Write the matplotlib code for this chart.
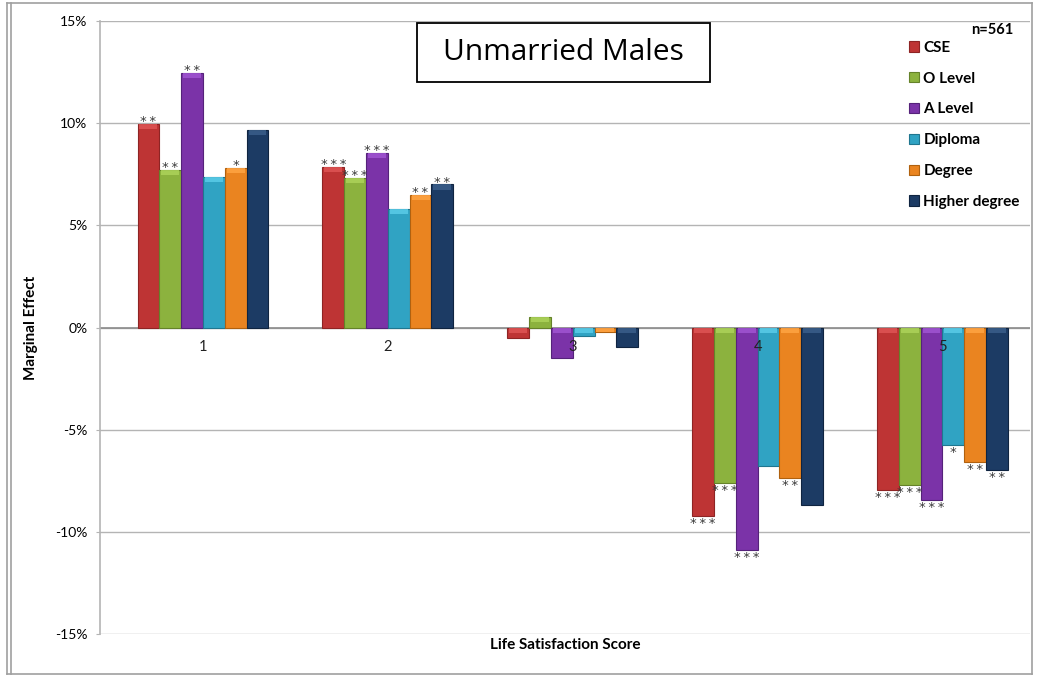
import numpy as np
import matplotlib.pyplot as plt
from matplotlib.patches import Rectangle
from matplotlib.lines import Line2D
import matplotlib
matplotlib.rcParams['font.family'] = ['Lato', 'DejaVu Sans']

# Marginal effects (%) by life satisfaction score
scores = ["1", "2", "3", "4", "5"]
qualifications = ["CSE", "O Level", "A Level", "Diploma", "Degree", "Higher degree"]
cse = [9.95, 7.85, -0.5, -9.2, -7.95]
o_level = [7.7, 7.3, 0.5, -7.6, -7.7]
a_level = [12.45, 8.55, -1.5, -10.9, -8.45]
diploma = [7.35, 5.8, -0.4, -6.8, -5.75]
degree = [7.8, 6.5, -0.2, -7.35, -6.6]
higher = [9.65, 7.0, -0.95, -8.7, -6.95]

# significance stars, same layout as the values
stars_cse = ["**", "***", "", "***", "***"]
stars_o = ["**", "***", "", "***", "***"]
stars_a = ["**", "***", "", "***", "***"]
stars_dip = ["", "", "", "", "*"]
stars_deg = ["*", "**", "", "**", "**"]
stars_hi = ["", "**", "", "", "**"]

series = [cse, o_level, a_level, diploma, degree, higher]
stars = [stars_cse, stars_o, stars_a, stars_dip, stars_deg, stars_hi]
colors = ["#BE3434", "#8CB23E", "#7B33A8", "#30A3C3", "#EA8420", "#1C3B64"]
caps = ["#DE5454", "#ACD35A", "#A055D2", "#5ACCE8", "#FFA443", "#3A5E8A"]
edges = ["#8E2424", "#65822A", "#55227A", "#20768F", "#B0610F", "#0F2440"]

fig = plt.figure(figsize=(10.46, 6.75), dpi=100)
ax = fig.add_axes([0.0956, 0.0607, 0.889, 0.9082])

x = np.arange(1, len(scores) + 1)
w = 0.118
for i, vals in enumerate(series):
    pos = x + (i - 2.5) * w
    ax.bar(pos, vals, width=w, color=colors[i], edgecolor=edges[i],
           linewidth=0.8, zorder=3, label=qualifications[i])
    # lighter bevel along the top edge of each bar
    vals = np.array(vals)
    top = np.maximum(vals, 0)
    cap = np.minimum(np.abs(vals), 0.25)
    ax.bar(pos, -cap, bottom=top, width=w * 0.82, color=caps[i],
           linewidth=0, zorder=4, alpha=0.85)
    for p, v, s in zip(pos, vals, stars[i]):
        if not s:
            continue
        txt = "\u2009".join(s)
        if v > 0:
            ax.text(p, v - 0.2, txt, ha="center", va="bottom",
                    fontsize=9.5, color="#3a3a3a", zorder=5,
                    family="DejaVu Sans")
        else:
            ax.text(p, v - 0.05, txt, ha="center", va="top",
                    fontsize=9.5, color="#3a3a3a", zorder=5,
                    family="DejaVu Sans")

# category labels sit on the zero line, drawn above the bars
for xi, lab in zip(x, scores):
    ax.text(xi, -0.6, lab, ha="center", va="top", fontsize=10.5,
            color="#222222", zorder=6)

ax.set_xlim(0.443, 5.473)
ax.set_ylim(-15, 15)
ax.set_yticks(np.arange(-15, 16, 5))
ax.set_yticklabels([f"{t}%" for t in range(-15, 16, 5)], fontsize=10)
ax.set_xticks([])
ax.yaxis.grid(True, color="#b4b4b4", linewidth=1)
ax.set_axisbelow(True)
ax.axhline(0, color="#8c8c8c", linewidth=1.2, zorder=2)
for side in ["top", "right", "bottom"]:
    ax.spines[side].set_visible(False)
ax.spines["left"].set_color("#b4b4b4")
ax.spines["left"].set_linewidth(1.2)
ax.tick_params(axis="y", length=3, color="#b4b4b4", pad=6)

ax.set_ylabel("Marginal Effect", fontsize=11, fontweight="bold", labelpad=12)
ax.set_xlabel("Life Satisfaction Score", fontsize=11, fontweight="bold", labelpad=3)

# title box
ax.add_patch(Rectangle((0.341, 0.9), 0.315, 0.097, transform=ax.transAxes,
                       facecolor="white", edgecolor="black", linewidth=1.3,
                       zorder=6, clip_on=False))
ax.text(0.498, 0.948, "Unmarried Males", transform=ax.transAxes, ha="center",
        va="center", fontsize=21.5, zorder=7, family="Open Sans")

ax.text(0.982, 0.985, "n=561", transform=ax.transAxes, ha="right", va="center",
        fontsize=10.5, fontweight="bold")
ax.legend(loc="upper left", bbox_to_anchor=(0.855, 0.99), frameon=False,
          prop={"weight": "bold", "size": 11}, handlelength=0.65,
          handleheight=0.65, handletextpad=0.3, labelspacing=1.1)

# page frame
frame = [((7, 7), (3, 674)), ((11, 11), (3, 674)), ((7, 1032), (3, 3)),
         ((7, 1032), (674, 674)), ((1032, 1032), (3, 674))]
for xs, ys in frame:
    fig.add_artist(Line2D([v / 1046 for v in xs], [1 - v / 675 for v in ys],
                          color="#a0a0a0", linewidth=1.2))

plt.savefig("out.png", dpi=100)
